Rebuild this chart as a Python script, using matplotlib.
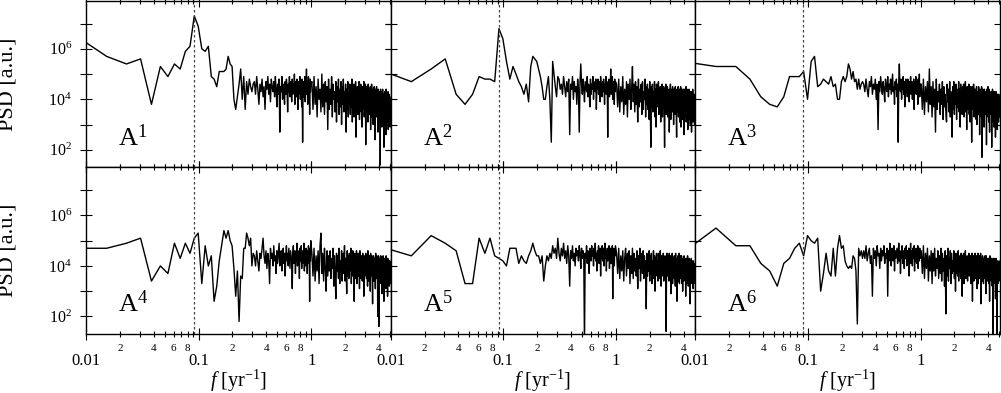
import matplotlib
matplotlib.use('Agg')
import matplotlib.pyplot as plt
import numpy as np
from matplotlib.ticker import FixedLocator, FuncFormatter, NullLocator

plt.rcParams['font.family'] = 'Liberation Serif'
plt.rcParams['mathtext.fontset'] = 'custom'
plt.rcParams['mathtext.rm'] = 'Liberation Serif'
plt.rcParams['mathtext.it'] = 'Liberation Serif:italic'

# frequency grid of the spectra (resolution ~1/131 yr^-1)
df = 0.00763
k_low = list(range(1, 41))
k_mid = list(range(41, 131))
k_high = list(range(133, 665, 3))
freq = df * np.array(k_low + k_mid + k_high)

solar_f = 1 / 11.0   # dotted line (11 yr cycle)

# PSD in dB (10*log10): low / mid / high frequency parts
a1_low = [66, 57, 54, 56, 38, 53, 49, 54, 52, 59, 61, 73, 69, 60, 59, 61, 49, 48, 45, 51,
          51, 51, 52, 57, 54, 53, 40, 36, 41, 46, 52, 40, 49, 36, 47, 42, 48, 45, 43, 46]
a1_mid = [47, 42, 49, 44, 38, 46, 43, 48, 41, 45, 36, 47, 44, 49, 42, 46, 39, 48, 45, 43,
          47, 41, 49, 44, 37, 46, 42, 48, 27, 45, 43, 49, 40, 46, 44, 38, 47, 42, 48, 45,
          35, 46, 43, 49, 41, 47, 44, 39, 48, 42, 46, 43, 50, 38, 45, 47, 41, 48, 44, 36,
          47, 42, 45, 49, 40, 46, 43, 37, 48, 23, 45, 41, 47, 44, 49, 39, 46, 42, 52, 43,
          47, 38, 45, 49, 41, 46, 34, 48, 43, 46]
a1_high = [47, 36, 49, 38, 45, 33, 48, 40, 44, 35, 50, 37, 46, 34, 47, 39, 45, 28, 48, 36,
           44, 38, 49, 33, 46, 40, 43, 35, 47, 31, 45, 39, 48, 34, 44, 37, 47, 30, 45, 38,
           48, 35, 43, 39, 46, 27, 44, 36, 47, 33, 42, 38, 46, 34, 45, 37, 48, 31, 43, 39,
           46, 33, 44, 36, 47, 25, 42, 38, 45, 34, 44, 37, 47, 32, 43, 39, 46, 35, 42, 29,
           45, 36, 44, 38, 47, 33, 41, 37, 46, 22, 43, 35, 45, 39, 42, 31, 46, 36, 44, 34,
           41, 37, 45, 28, 43, 35, 46, 33, 40, 38, 44, 30, 42, 36, 45, 34, 41, 24, 44, 37,
           42, 33, 45, 35, 40, 38, 43, 27, 44, 32, 41, 36, 43, 31, 42, 14, 44, 34, 40, 37,
           43, 29, 41, 35, 44, 32, 39, 36, 42, 21, 40, 34, 43, 30, 41, 37, 42, 26, 44, 33,
           39, 35, 42, 31, 40, 36, 43, 28, 41, 34, 42, 30, 40, 35, 41, 29, 39, 38]

a2_low = [52, 47, 52, 56, 42, 38, 42, 49, 48, 48, 47, 68, 64, 55, 48, 53, 50, 47, 45, 42,
          46, 39, 53, 57, 56, 55, 52, 49, 45, 40, 40, 45, 49, 40, 23, 55, 50, 45, 41, 49]
a2_mid = [48, 44, 46, 42, 49, 45, 41, 47, 43, 48, 26, 46, 44, 49, 40, 47, 43, 45, 38, 48,
          44, 27, 47, 54, 46, 42, 48, 44, 39, 47, 45, 43, 49, 41, 46, 44, 37, 48, 42, 46,
          44, 49, 40, 47, 45, 43, 48, 36, 46, 44, 48, 42, 45, 47, 39, 49, 44, 46, 41, 47,
          43, 48, 45, 38, 46, 44, 49, 42, 47, 45, 25, 46, 43, 48, 41, 47, 44, 52, 42, 46,
          45, 49, 40, 47, 44, 46, 38, 48, 43, 47]
a2_high = [46, 37, 48, 35, 45, 39, 49, 34, 44, 38, 47, 33, 46, 40, 48, 36, 44, 53, 39, 46,
           35, 47, 38, 45, 31, 48, 37, 44, 39, 46, 34, 47, 36, 43, 40, 48, 33, 45, 38, 46,
           36, 44, 32, 47, 38, 21, 45, 37, 46, 35, 43, 39, 47, 33, 44, 29, 46, 37, 42, 38,
           47, 34, 43, 39, 45, 31, 44, 36, 46, 33, 42, 38, 45, 35, 21, 44, 37, 46, 34, 43,
           39, 45, 33, 42, 36, 44, 27, 43, 38, 46, 32, 44, 37, 42, 35, 45, 38, 41, 30, 44,
           36, 43, 34, 45, 38, 42, 33, 25, 44, 37, 41, 35, 45, 33, 42, 38, 44, 31, 43, 36,
           45, 29, 42, 37, 44, 34, 41, 38, 32, 44, 36, 42, 26, 44, 35, 40, 38, 43, 33, 45,
           31, 42, 37, 44, 34, 41, 28, 43, 36, 40, 35, 44, 32, 41, 38, 43, 30, 42, 36, 39,
           43, 27, 41, 35, 42, 33, 44, 31, 40, 37, 33, 42, 36, 40, 30, 41, 37, 39]

a3_low = [55, 53, 53, 48, 41, 38, 37, 41, 49, 49, 49, 51, 40, 55, 57, 45, 46, 48, 47, 46,
          49, 45, 46, 40, 40, 47, 49, 47, 49, 54, 52, 48, 51, 47, 48, 44, 48, 44, 46, 47]
a3_mid = [46, 43, 48, 44, 41, 47, 45, 49, 42, 46, 44, 48, 40, 46, 28, 47, 43, 49, 45, 42,
          47, 44, 39, 48, 45, 43, 49, 41, 46, 44, 48, 42, 46, 50, 43, 45, 38, 47, 44, 48,
          41, 46, 23, 47, 54, 45, 43, 48, 40, 46, 44, 49, 42, 47, 37, 45, 48, 43, 46, 41,
          48, 44, 46, 39, 47, 43, 49, 42, 45, 47, 40, 46, 44, 48, 36, 47, 43, 45, 49, 42,
          46, 44, 47, 38, 48, 43, 45, 50, 41, 46]
a3_high = [46, 36, 48, 34, 45, 39, 47, 35, 52, 38, 45, 33, 47, 37, 44, 27, 48, 36, 43, 39,
           46, 34, 44, 38, 47, 32, 45, 37, 42, 35, 31, 46, 39, 44, 35, 47, 33, 43, 38, 25,
           45, 36, 47, 34, 43, 38, 46, 32, 44, 37, 40, 47, 35, 44, 29, 46, 37, 43, 34, 45,
           38, 46, 33, 44, 37, 47, 35, 42, 28, 45, 36, 43, 39, 46, 34, 44, 31, 45, 37, 42,
           23, 45, 36, 42, 38, 46, 33, 44, 35, 41, 37, 44, 32, 45, 30, 43, 36, 42, 34, 45,
           38, 43, 26, 44, 35, 41, 37, 33, 45, 17, 43, 36, 44, 33, 42, 38, 29, 44, 35, 41,
           34, 43, 37, 42, 22, 44, 35, 41, 36, 45, 33, 42, 31, 44, 37, 27, 43, 35, 42, 34,
           41, 36, 43, 21, 42, 34, 44, 37, 31, 43, 35, 42, 29, 41, 36, 43, 33, 40, 25, 42,
           34, 43, 32, 41, 36, 40, 28, 42, 35, 39, 38, 31, 42, 35, 40, 33, 41, 36]

a4_low = [47, 47, 49, 51, 34, 40, 37, 49, 43, 49, 45, 51, 53, 33, 48, 40, 44, 26, 32, 42,
          48, 54, 51, 54, 50, 48, 39, 28, 38, 18, 36, 35, 47, 47, 53, 51, 48, 51, 40, 45]
a4_mid = [44, 40, 46, 42, 38, 45, 43, 47, 51, 44, 41, 46, 39, 45, 42, 33, 47, 43, 45, 40,
          48, 42, 44, 37, 46, 41, 45, 49, 40, 44, 46, 38, 43, 47, 41, 45, 36, 44, 48, 42,
          45, 40, 47, 43, 39, 46, 44, 42, 31, 45, 48, 41, 44, 46, 37, 45, 42, 49, 40, 46,
          43, 45, 35, 47, 42, 44, 48, 39, 46, 41, 45, 43, 49, 38, 44, 46, 40, 47, 42, 45,
          37, 46, 43, 48, 41, 44, 26, 47, 42, 50]
a4_high = [45, 36, 47, 34, 44, 38, 46, 33, 48, 53, 37, 45, 34, 47, 39, 30, 46, 36, 44, 38,
           46, 35, 43, 39, 47, 32, 44, 37, 27, 45, 38, 44, 35, 47, 33, 42, 39, 46, 34, 43,
           45, 37, 48, 34, 43, 39, 29, 46, 36, 44, 35, 45, 38, 42, 47, 33, 44, 36, 46, 39,
           43, 26, 45, 35, 44, 38, 46, 33, 42, 37, 45, 36, 43, 31, 46, 38, 41, 35, 44, 39,
           34, 45, 37, 43, 28, 44, 36, 42, 39, 45, 43, 35, 44, 38, 32, 46, 36, 42, 34, 44,
           39, 43, 30, 45, 36, 41, 38, 44, 35, 25, 42, 37, 44, 34, 41, 39, 43, 36, 31, 45,
           37, 42, 35, 44, 38, 43, 20, 41, 36, 44, 16, 42, 35, 43, 37, 40, 34, 44, 33, 41,
           38, 29, 43, 36, 42, 34, 44, 37, 40, 26, 42, 35, 43, 33, 40, 37, 42, 31, 44, 36,
           40, 34, 42, 37, 28, 43, 35, 41, 33, 42, 36, 32, 41, 35, 42, 33, 40, 37]

a5_low = [48, 44, 52, 49, 46, 33, 33, 51, 45, 51, 44, 43, 42, 40, 47, 47, 47, 41, 44, 42,
          41, 44, 46, 49, 46, 44, 44, 41, 44, 34, 40, 44, 42, 45, 43, 48, 45, 47, 43, 51]
a5_mid = [45, 42, 47, 44, 49, 43, 46, 41, 48, 44, 32, 46, 43, 48, 42, 45, 40, 47, 44, 46,
          42, 48, 45, 39, 47, 43, 46, 44, 8, 45, 43, 48, 41, 46, 44, 37, 47, 45, 42, 48,
          44, 46, 40, 47, 43, 49, 42, 45, 38, 46, 44, 48, 41, 45, 47, 36, 46, 43, 48, 42,
          45, 47, 40, 44, 49, 43, 46, 38, 45, 47, 42, 46, 44, 48, 39, 45, 43, 47, 41, 46,
          44, 48, 27, 45, 43, 47, 40, 46, 44, 48]
a5_high = [45, 37, 47, 35, 44, 38, 46, 34, 43, 47, 36, 45, 39, 46, 33, 44, 37, 47, 35, 45,
           38, 43, 36, 46, 31, 44, 39, 47, 34, 43, 45, 37, 46, 35, 44, 38, 42, 23, 45, 36,
           43, 38, 46, 34, 44, 37, 45, 33, 42, 39, 46, 35, 44, 30, 43, 38, 45, 36, 42, 34,
           45, 38, 43, 35, 46, 37, 32, 44, 36, 42, 38, 45, 34, 43, 37, 44, 35, 41, 14, 43,
           45, 36, 44, 38, 42, 34, 45, 37, 43, 35, 44, 29, 42, 37, 45, 33, 43, 38, 41, 35,
           44, 36, 42, 32, 45, 37, 41, 38, 26, 43, 36, 44, 34, 42, 38, 45, 33, 41, 37, 44,
           35, 42, 37, 44, 33, 41, 38, 30, 43, 36, 42, 34, 44, 37, 40, 35, 43, 38, 28, 42,
           36, 43, 33, 41, 37, 44, 35, 42, 32, 40, 37, 43, 34, 41, 36, 25, 42, 35, 40, 37,
           43, 33, 41, 36, 42, 34, 40, 38, 31, 42, 35, 40, 33, 41, 37, 39, 34, 40]

a6_low = [45, 55, 48, 48, 41, 38, 32, 41, 43, 47, 49, 44, 52, 50, 49, 51, 30, 37, 45, 38,
          36, 47, 36, 47, 52, 47, 48, 42, 40, 39, 40, 39, 44, 43, 38, 17, 47, 44, 46, 43]
a6_mid = [46, 43, 48, 42, 45, 47, 41, 44, 28, 47, 43, 46, 40, 48, 44, 45, 39, 47, 42, 46,
          44, 48, 41, 45, 43, 47, 28, 46, 42, 49, 44, 40, 47, 45, 42, 48, 38, 46, 43, 45,
          47, 41, 44, 49, 42, 46, 37, 45, 43, 48, 41, 46, 44, 39, 47, 43, 45, 48, 40, 46,
          44, 42, 47, 36, 45, 43, 49, 41, 46, 44, 40, 47, 43, 45, 48, 38, 46, 42, 44, 47,
          41, 45, 43, 48, 39, 46, 44, 42, 47, 43]
a6_high = [46, 37, 48, 35, 45, 39, 47, 34, 44, 38, 46, 33, 45, 38, 47, 36, 43, 39, 46, 35,
           44, 37, 47, 34, 45, 38, 43, 32, 46, 21, 44, 36, 47, 34, 43, 39, 46, 33, 45, 37,
           42, 38, 46, 35, 44, 30, 45, 37, 43, 36, 46, 34, 44, 38, 42, 35, 45, 37, 28, 44,
           36, 45, 33, 43, 38, 46, 35, 42, 37, 44, 34, 43, 38, 45, 36, 41, 39, 44, 33, 42,
           37, 45, 26, 43, 36, 44, 34, 42, 38, 45, 35, 43, 37, 44, 31, 42, 36, 45, 33, 41,
           38, 44, 35, 42, 37, 45, 25, 43, 36, 41, 34, 44, 37, 42, 33, 43, 38, 41, 35, 44,
           37, 42, 29, 44, 36, 41, 38, 43, 34, 42, 36, 43, 33, 41, 38, 26, 44, 35, 42, 37,
           41, 34, 43, 36, 42, 32, 40, 37, 8, 43, 35, 42, 37, 41, 33, 43, 36, 40, 27, 42,
           36, 43, 34, 41, 37, 8, 42, 35, 40, 33, 41, 36, 40, 34, 42, 37, 39, 36]

panels = [
    (a1_low, a1_mid, a1_high),
    (a2_low, a2_mid, a2_high),
    (a3_low, a3_mid, a3_high),
    (a4_low, a4_mid, a4_high),
    (a5_low, a5_mid, a5_high),
    (a6_low, a6_mid, a6_high),
]

x_major = [0.01, 0.1, 1]
x_minor = [m * d for d in (0.01, 0.1, 1) for m in range(2, 10)]
y_major = [10.0 ** e for e in range(1, 9)]


def minor_label(x, pos):
    m = int(round(x / 10 ** np.floor(np.log10(x) + 1e-9)))
    return str(m) if m in (2, 4, 6, 8) else ''


def major_label(x, pos):
    return {0.01: '0.01', 0.1: '0.1', 1: '1'}.get(round(x, 3), '')


def y_label(y, pos):
    e = int(round(np.log10(y)))
    return r'$10^{%d}$' % e if e % 2 == 0 else ''


fig, axes = plt.subplots(2, 3, figsize=(10.01, 3.93), dpi=100)
plt.subplots_adjust(left=0.0859, right=0.999, top=0.998, bottom=0.150,
                    wspace=0, hspace=0)

for i, ax in enumerate(axes.flat):
    low, mid, high = panels[i]
    db = np.array(low + mid + high, dtype=float)
    n = min(len(freq), len(db))
    ax.plot(freq[:n], 10 ** (db[:n] / 10), color='black', lw=1.0)
    ax.axvline(solar_f, color='#444444', lw=0.9, linestyle=(0, (2, 2)))

    ax.set_xscale('log')
    ax.set_yscale('log')
    ax.set_xlim(0.01, 5.08)
    ax.set_ylim(20, 8e7)

    ax.xaxis.set_major_locator(FixedLocator(x_major))
    ax.xaxis.set_minor_locator(FixedLocator(x_minor))
    ax.xaxis.set_major_formatter(FuncFormatter(major_label))
    ax.xaxis.set_minor_formatter(FuncFormatter(minor_label))
    ax.yaxis.set_major_locator(FixedLocator(y_major))
    ax.yaxis.set_minor_locator(NullLocator())
    ax.yaxis.set_major_formatter(FuncFormatter(y_label))

    ax.tick_params(which='both', direction='inout', top=True, right=True,
                   width=0.8, color='black')
    ax.tick_params(axis='x', which='major', length=8, pad=10, labelsize=12)
    ax.tick_params(axis='x', which='minor', length=5, pad=4.5, labelsize=8)
    ax.tick_params(axis='y', which='major', length=9, pad=5.5, labelsize=11.5)
    for s in ax.spines.values():
        s.set_linewidth(1.0)

    row, col = divmod(i, 3)
    if row == 0:
        ax.tick_params(axis='x', which='both', labelbottom=False)
    else:
        ax.set_xlabel(r'$f$ [yr$^{-1}$]', fontsize=14.5)
        ax.xaxis.set_label_coords(0.5, -0.20)
    if col != 0:
        ax.tick_params(axis='y', labelleft=False)
    else:
        ax.set_ylabel('PSD [a.u.]', fontsize=16)
        ax.yaxis.set_label_coords(-0.225, 0.5)

    ax.text(0.105, 0.13, r'A$^{%d}$' % (i + 1), transform=ax.transAxes,
            fontsize=19)

plt.savefig('out.png', dpi=100)
